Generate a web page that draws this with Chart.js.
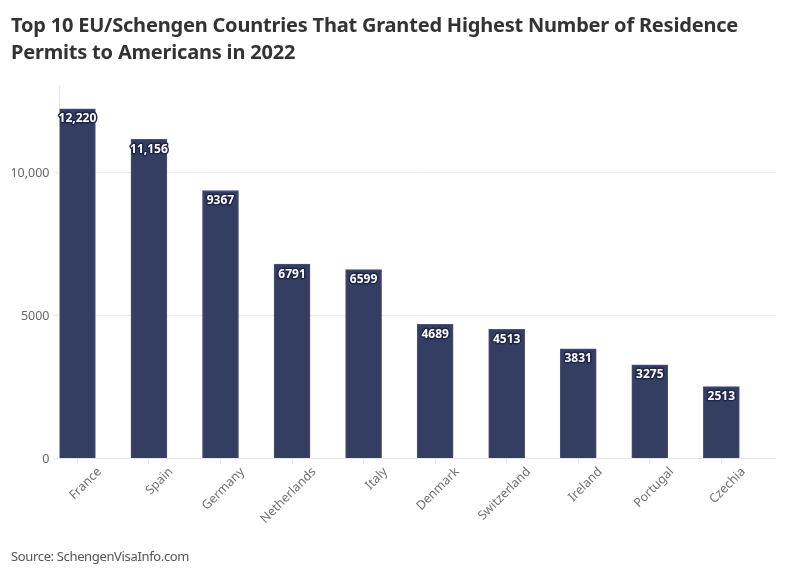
<!DOCTYPE html>
<html><head><meta charset="utf-8">
<script src="https://cdn.jsdelivr.net/npm/chart.js@4"></script>
<style>
html,body{margin:0;padding:0;background:#fff;width:796px;height:575px;overflow:hidden}
#wrap{position:relative;width:796px;height:575px}
canvas{position:absolute;left:0;top:0}
#title{position:absolute;left:11px;top:11px;width:770px;font:700 20px/27px "Noto Sans",sans-serif;color:#333;letter-spacing:-0.2px}
#source{position:absolute;left:11px;top:547px;font:400 13px/18px "Noto Sans",sans-serif;color:#555;letter-spacing:-0.35px}
</style></head><body>
<div id="wrap">
<canvas id="c" width="796" height="575"></canvas>
<div id="title">Top 10 EU/Schengen Countries That Granted Highest Number of Residence<br>Permits to Americans in 2022</div>
<div id="source">Source: SchengenVisaInfo.com</div>
</div>
<script>
const countries=["France","Spain","Germany","Netherlands","Italy","Denmark","Switzerland","Ireland","Portugal","Czechia"];
const permits=[12220,11156,9367,6791,6599,4689,4513,3831,3275,2513];
const yTicks=[0,5000,10000];
const fontName='"Noto Sans",sans-serif';
const fmt=v=>v>=10000?v.toLocaleString('en-US'):String(v);
const barLabels={id:'barLabels',afterDatasetsDraw(chart){
  const ctx=chart.ctx,meta=chart.getDatasetMeta(0);
  ctx.save();
  ctx.font='700 12px '+fontName;ctx.textAlign='center';ctx.textBaseline='middle';
  ctx.lineJoin='round';
  meta.data.forEach((el,i)=>{
    const t=fmt(permits[i]),y=el.y+10;
    ctx.lineWidth=3;ctx.strokeStyle='#1f2747';ctx.strokeText(t,el.x,y);
    ctx.fillStyle='#fff';ctx.fillText(t,el.x,y);
  });
  ctx.restore();
}};
new Chart(document.getElementById('c'),{
  type:'bar',
  data:{datasets:[{data:permits.map((v,i)=>({x:i,y:v})),backgroundColor:'#333e62',borderColor:'#4a5475',borderWidth:1,barThickness:36}]},
  plugins:[barLabels],
  options:{
    responsive:false,animation:false,devicePixelRatio:1,
    layout:{padding:{left:0,right:21,top:86.5,bottom:0}},
    plugins:{legend:{display:false},tooltip:{enabled:false},title:{display:false}},
    scales:{
      x:{type:'linear',offset:false,min:-0.25,max:9.75,
        afterBuildTicks(s){s.ticks=countries.map((_,i)=>({value:i}));},
        afterFit(s){s.height=116.5;},
        grid:{display:true,offset:false,drawOnChartArea:false,drawTicks:true,tickLength:6,color:'#e6e6e6'},
        border:{color:'#e6e6e6'},
        ticks:{autoSkip:false,maxRotation:45,minRotation:45,labelOffset:22,padding:0,color:'#707070',font:{family:fontName,size:12.5},callback:v=>countries[v]}
      },
      y:{min:0,max:13000,
        afterBuildTicks(s){s.ticks=yTicks.map(v=>({value:v}));},
        afterFit(s){s.width=59.5;},
        grid:{color:'#ececec',tickLength:6},
        border:{color:'#e6e6e6'},
        ticks:{padding:4,labelOffset:1,color:'#666',font:{family:fontName,size:12.5},callback:v=>fmt(v)}
      }
    }
  }
});
</script></body></html>
